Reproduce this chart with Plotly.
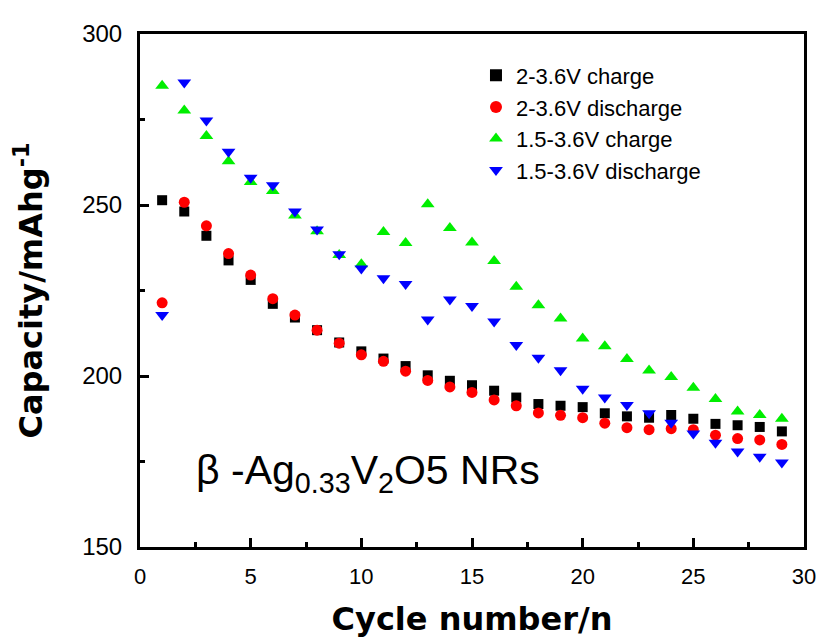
import plotly.graph_objects as go

cycles = list(range(1, 30))

charge_2_36 = [251.4, 248.1, 241.0, 233.8, 228.1, 221.1, 217.1, 213.4, 209.8, 207.2,
               205.1, 202.9, 200.2, 198.6, 197.3, 195.7, 193.7, 191.8, 191.3, 190.9,
               189.1, 188.2, 187.8, 188.6, 187.5, 186.0, 185.6, 185.1, 183.8]
discharge_2_36 = [221.4, 250.8, 243.9, 235.8, 229.5, 222.6, 217.8, 213.4, 209.6, 206.2,
                  204.3, 201.4, 198.7, 196.8, 195.2, 193.0, 191.3, 189.2, 188.5, 187.8,
                  186.2, 184.9, 184.3, 184.6, 184.3, 182.7, 181.7, 181.3, 180.0]
charge_15_36 = [284.9, 277.6, 270.2, 262.8, 256.7, 254.1, 246.9, 242.3, 235.4, 232.7,
                242.1, 238.9, 250.2, 243.3, 239.0, 233.6, 226.1, 220.7, 216.8, 211.0,
                208.7, 205.0, 201.6, 199.7, 196.6, 193.3, 189.6, 188.6, 187.5]
discharge_15_36 = [217.8, 285.8, 274.7, 265.6, 258.0, 255.8, 248.1, 242.8, 235.6, 231.4,
                   228.6, 226.9, 216.5, 222.4, 220.5, 215.9, 209.1, 205.3, 201.7, 196.3,
                   193.7, 191.5, 189.1, 186.3, 183.2, 180.5, 177.9, 176.4, 174.7]

series_names = ["2-3.6V charge", "2-3.6V discharge", "1.5-3.6V charge", "1.5-3.6V discharge"]
x_ticks = [0, 5, 10, 15, 20, 25, 30]
y_ticks = [150, 200, 250, 300]

FONT = "Liberation Sans, Arial, sans-serif"
TITLE_FONT = "DejaVu Sans, Liberation Sans, Arial"

fig = go.Figure()
styles = [
    (charge_2_36, "square", "#000000", 10),
    (discharge_2_36, "circle", "#ff0000", 11),
    (charge_15_36, "triangle-up", "#00ee00", 12),
    (discharge_15_36, "triangle-down", "#0000ff", 12),
]
for name, (vals, sym, col, sz) in zip(series_names, styles):
    fig.add_trace(go.Scatter(
        x=cycles, y=vals, mode="markers", name=name,
        marker=dict(symbol=sym, color=col, size=sz, line=dict(width=0)),
    ))

axis_common = dict(
    showgrid=False, zeroline=False, showline=True, linecolor="black", linewidth=3,
    mirror=True, ticks="inside", tickcolor="black", tickwidth=2.5, ticklen=9,
)

# page body has an 8px margin, so the figure is made 8px smaller and margins shifted
fig.update_layout(
    width=820, height=636,
    paper_bgcolor="white", plot_bgcolor="white",
    margin=dict(l=124, r=20, t=17, b=96),
    showlegend=True,
    legend=dict(
        x=0.506, y=0.96, xanchor="left", yanchor="top",
        bgcolor="rgba(0,0,0,0)", borderwidth=0,
        font=dict(family=FONT, size=22, color="black"),
        itemsizing="constant", tracegroupgap=0,
    ),
    xaxis=dict(
        range=[0, 30], tickvals=x_ticks, ticktext=[str(v) for v in x_ticks],
        minor=dict(dtick=2.5, ticks="inside", ticklen=5, tickwidth=2.5, tickcolor="black"),
        ticklabelstandoff=8,
        tickfont=dict(family=FONT, size=22, color="black"),
        title=dict(text="Cycle number/n", standoff=20,
                   font=dict(family=TITLE_FONT, size=32, color="black", weight="bold")),
        **axis_common,
    ),
    yaxis=dict(
        range=[150, 300], tickvals=y_ticks, ticktext=[str(v) for v in y_ticks],
        minor=dict(dtick=25, ticks="inside", ticklen=5, tickwidth=2.5, tickcolor="black"),
        ticklabelstandoff=10,
        tickfont=dict(family=FONT, size=24, color="black"),
        title=dict(text="Capacity/mAhg<sup>-1</sup>", standoff=40,
                   font=dict(family=TITLE_FONT, size=32, color="black", weight="bold")),
        **axis_common,
    ),
)

fig.add_annotation(
    x=2.45, y=171.5, xref="x", yref="y", xanchor="left", yanchor="middle",
    text="β -Ag<sub>0.33</sub>V<sub>2</sub>O5 NRs", showarrow=False,
    font=dict(family=FONT, size=41, color="black"),
)

fig.write_html("out.html")
